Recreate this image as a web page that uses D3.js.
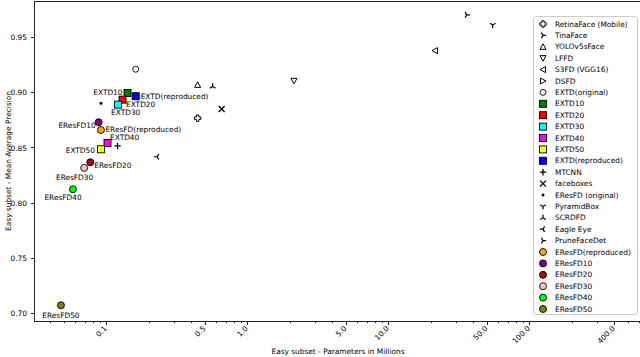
<!DOCTYPE html>
<meta charset="utf-8">
<script src="https://d3js.org/d3.v7.min.js"></script>
<style type="text/css">
    body { margin: 0; background: #fff; }
    text { font-family: "DejaVu Sans", sans-serif; fill: #000; }
    .frame { fill: none; stroke: #222; shape-rendering: crispEdges; }
    .tick line { stroke: #222; shape-rendering: crispEdges; }
</style>
<body>
<script>
    // model names (legend order)
    var models = ["RetinaFace (Mobile)", "TinaFace", "YOLOv5sFace", "LFFD", "S3FD (VGG16)", "DSFD",
        "EXTD(original)", "EXTD10", "EXTD20", "EXTD30", "EXTD40", "EXTD50", "EXTD(reproduced)",
        "MTCNN", "faceboxes", "EResFD (original)", "PyramidBox", "SCRDFD", "Eagle Eye", "PruneFaceDet",
        "EResFD(reproduced)", "EResFD10", "EResFD20", "EResFD30", "EResFD40", "EResFD50"];

    // parameters in millions (null = not on the visible plot)
    var params = [0.44, 35.6, 0.44, 2.12, 21.2, null,
        0.16, 0.140, 0.129, 0.120, 0.101, 0.0907, 0.160,
        0.119, 0.651, 0.0907, 54.4, 0.562, 0.227, null,
        0.0907, 0.0873, 0.0762, 0.069, 0.0574, 0.0472];

    // easy subset mAP
    var easyAP = [0.877, 0.9707, 0.9072, 0.9108, 0.9383, null,
        0.9214, 0.8999, 0.8938, 0.8893, 0.8545, 0.8488, 0.8969,
        0.8518, 0.8854, 0.8906, 0.9616, 0.9057, 0.842, null,
        0.8663, 0.8733, 0.8370, 0.8319, 0.8125, 0.7073];

    // which points carry a text label
    var annotated = ["EXTD10", "EXTD20", "EXTD30", "EXTD40", "EXTD50", "EXTD(reproduced)",
        "EResFD(reproduced)", "EResFD10", "EResFD20", "EResFD30", "EResFD40", "EResFD50"];

    var xTicks = [0.1, 0.5, 1, 5, 10, 50, 100, 400],
        xTickLabels = ["0.1", "0.5", "1.0", "5.0", "10.0", "50.0", "100.0", "400.0"],
        yTicks = [0.70, 0.75, 0.80, 0.85, 0.90, 0.95];

    // marker style per model
    var markers = ["P", "4", "^", "v", "<", ">", "o", "s", "s", "s", "s", "s", "s",
        "+", "x", ".", "1", "2", "3", "4", "o", "o", "o", "o", "o", "o"];
    var colors = ["none", "none", "none", "none", "none", "none", "none",
        "#008000", "#ff0000", "#00ffff", "#ff00ff", "#ffff00", "#0000ff",
        "none", "none", "#000", "none", "none", "none", "none",
        "#ffa500", "#800080", "#a01010", "#ffc0cb", "#00ff00", "#808000"];

    // label placement: [dx, dy, anchor]
    var labelPos = {
        "EXTD10": [-5, -1, "end"],
        "EXTD(reproduced)": [5, 0, "start"],
        "EXTD20": [3.5, 4.5, "start"],
        "EXTD30": [-7, 8, "start"],
        "EResFD10": [-3, 3.5, "end"],
        "EResFD(reproduced)": [4.5, -1, "start"],
        "EXTD40": [2.5, -6, "start"],
        "EXTD50": [-6, 1, "end"],
        "EResFD20": [4, 3, "start"],
        "EResFD30": [9, 9.7, "end"],
        "EResFD40": [8.7, 8, "end"],
        "EResFD50": [0, 10, "middle"]
    };

    var W = 640, H = 357,
        pLeft = 34, pRight = 642, pTop = 1, pBottom = 321,
        fs = 7.4;

    var x = d3.scaleLog().domain([0.0304, 623]).range([pLeft, pRight]),
        y = d3.scaleLinear().domain([0.693, 0.9833]).range([pBottom, pTop]);

    var svg = d3.select("body").append("svg")
        .attr("width", W)
        .attr("height", H);

    // draw a matplotlib-like marker into g
    function marker(g, m, c) {
        var s = c === "none" ? 3 : 3.5;
        var stroke = "#000";
        if (m === "o") {
            g.append("circle").attr("r", s).attr("fill", c).attr("stroke", stroke).attr("stroke-width", 0.9);
        } else if (m === "s") {
            g.append("rect").attr("x", -s).attr("y", -s).attr("width", 2 * s).attr("height", 2 * s)
                .attr("fill", c).attr("stroke", stroke).attr("stroke-width", 0.9);
        } else if (m === ".") {
            g.append("circle").attr("r", 1.5).attr("fill", "#000");
        } else if (m === "^" || m === "v" || m === "<" || m === ">") {
            var pts = [[0, -s], [s, s * 0.85], [-s, s * 0.85]];
            var rot = {"^": 0, "v": 180, "<": -90, ">": 90}[m];
            g.append("path").attr("d", "M" + pts.join("L") + "Z")
                .attr("transform", "rotate(" + rot + ")")
                .attr("fill", "none").attr("stroke", stroke).attr("stroke-width", 1);
        } else if (m === "P") {
            var a = 3.2, b = 1.2;
            var p = [[-b, -a], [b, -a], [b, -b], [a, -b], [a, b], [b, b], [b, a], [-b, a], [-b, b], [-a, b], [-a, -b], [-b, -b]];
            g.append("path").attr("d", "M" + p.join("L") + "Z")
                .attr("fill", "none").attr("stroke", stroke).attr("stroke-width", 1);
        } else if (m === "+") {
            g.append("path").attr("d", "M-3.2,0H3.2M0,-3.2V3.2")
                .attr("stroke", stroke).attr("stroke-width", 1.3);
        } else if (m === "x") {
            g.append("path").attr("d", "M-3,-3L3,3M-3,3L3,-3")
                .attr("stroke", stroke).attr("stroke-width", 1.3);
        } else {
            // tri markers: 1 down, 2 up, 3 left, 4 right
            var r2 = {"1": 0, "2": 180, "3": 90, "4": -90}[m];
            g.append("path").attr("d", "M0,0V3.2M0,0L-2.8,-1.6M0,0L2.8,-1.6")
                .attr("transform", "rotate(" + r2 + ")")
                .attr("fill", "none").attr("stroke", stroke).attr("stroke-width", 1.2);
        }
    }

    // ticks: y axis
    var yg = svg.append("g");
    yTicks.forEach(function(t) {
        var g = yg.append("g").attr("class", "tick").attr("transform", "translate(0," + y(t) + ")");
        g.append("line").attr("x1", pLeft - 3.5).attr("x2", pLeft);
        g.append("text").attr("x", pLeft - 7).attr("dy", "0.35em")
            .attr("text-anchor", "end").style("font-size", fs + "px").text(t.toFixed(2));
    });

    // x axis: minor ticks
    var minor = [];
    for (var k = -2; k <= 2; k++) {
        for (var j = 2; j <= 9; j++) {
            var v = j * Math.pow(10, k);
            if (v > x.domain()[0] && v < x.domain()[1] && xTicks.indexOf(+v.toPrecision(3)) < 0)
                minor.push(v);
        }
    }
    var xg = svg.append("g");
    minor.forEach(function(v) {
        xg.append("g").attr("class", "tick")
            .append("line").attr("x1", x(v)).attr("x2", x(v)).attr("y1", pBottom).attr("y2", pBottom + 2);
    });
    xTicks.forEach(function(t, i) {
        var g = xg.append("g").attr("class", "tick").attr("transform", "translate(" + x(t) + "," + pBottom + ")");
        g.append("line").attr("y1", 0).attr("y2", 3.5);
        g.append("text").attr("transform", "translate(0.5,8) rotate(-45)")
            .attr("text-anchor", "end")
            .style("font-size", fs + "px").text(xTickLabels[i]);
    });

    // frame
    svg.append("rect").attr("class", "frame")
        .attr("x", pLeft + 0.5).attr("y", pTop + 0.5)
        .attr("width", pRight - pLeft).attr("height", pBottom - pTop);

    // axis titles
    svg.append("text")
        .attr("x", (pLeft + pRight) / 2).attr("y", 351).attr("dy", "0.35em")
        .attr("text-anchor", "middle").style("font-size", fs + "px")
        .text("Easy subset - Parameters in Millions");
    svg.append("text")
        .attr("transform", "translate(8," + (pTop + pBottom) / 2 + ") rotate(-90)")
        .attr("dy", "0.35em")
        .attr("text-anchor", "middle").style("font-size", fs + "px")
        .text("Easy subset - Mean Average Precision");

    // points
    var pg = svg.append("g");
    models.forEach(function(name, i) {
        if (params[i] === null) return;
        var g = pg.append("g").attr("transform", "translate(" + x(params[i]) + "," + y(easyAP[i]) + ")");
        marker(g, markers[i], colors[i]);
    });

    // labels
    annotated.forEach(function(name) {
        var i = models.indexOf(name), lp = labelPos[name];
        pg.append("text")
            .attr("x", x(params[i]) + lp[0]).attr("y", y(easyAP[i]) + lp[1])
            .attr("dy", "0.35em").attr("text-anchor", lp[2])
            .style("font-size", fs + "px").text(name);
    });

    // legend
    var lg = svg.append("g");
    lg.append("rect").attr("x", 533.5).attr("y", 16.5).attr("width", 104).attr("height", 298)
        .attr("rx", 2.5).attr("fill", "#fff").attr("fill-opacity", 0.8)
        .attr("stroke", "#ccc").attr("stroke-width", 1);
    models.forEach(function(name, i) {
        var ly = 24 + i * 11.4;
        var g = lg.append("g").attr("transform", "translate(543," + ly + ")");
        marker(g, markers[i], colors[i]);
        lg.append("text").attr("x", 555).attr("y", ly).attr("dy", "0.35em")
            .style("font-size", fs + "px").text(name);
    });
</script>
</body>
